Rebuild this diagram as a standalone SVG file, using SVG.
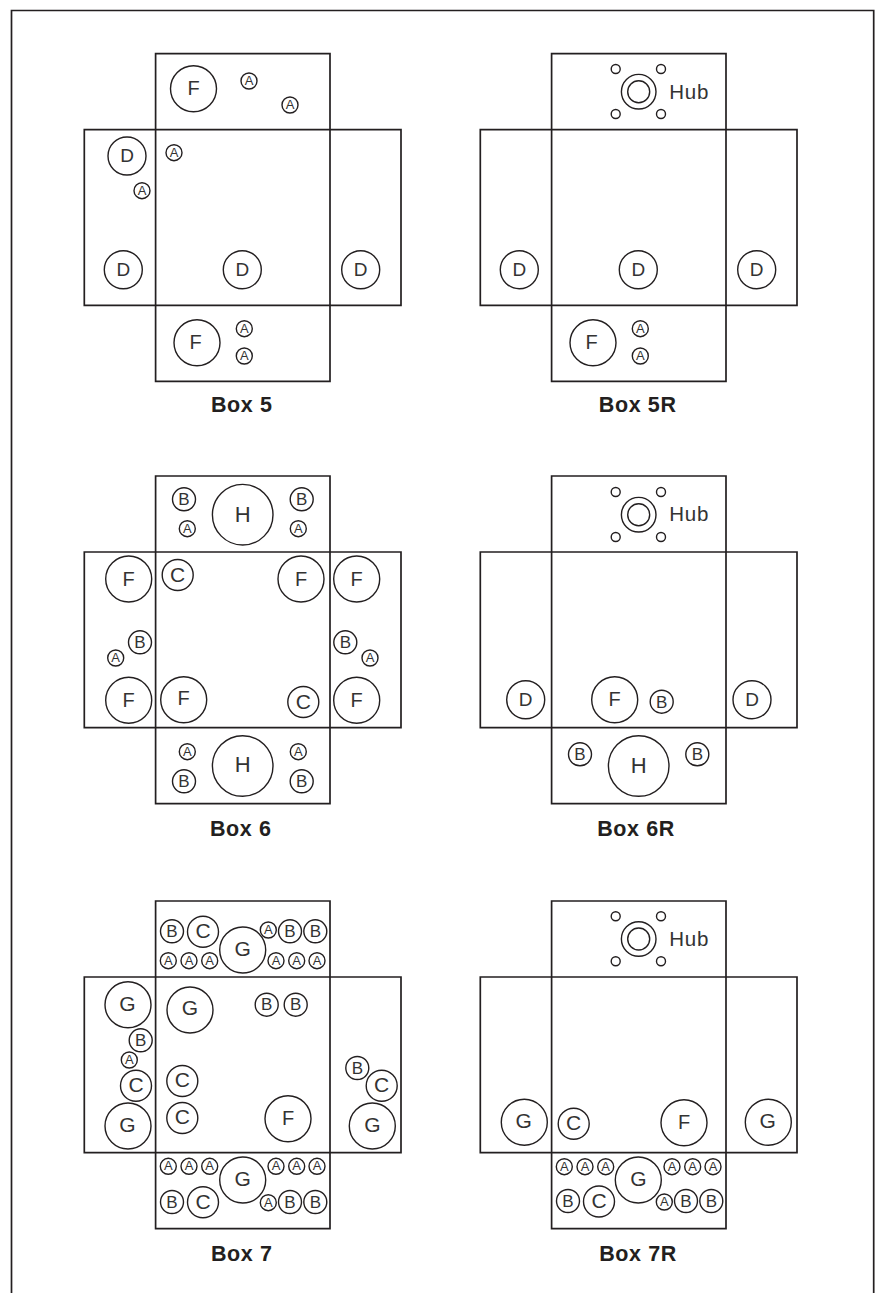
<svg xmlns="http://www.w3.org/2000/svg" width="881" height="1293" viewBox="0 0 881 1293">
<style>
.bg{fill:#fff}
.frame{fill:none;stroke:#231f20;stroke-width:1.7}
.net{fill:none;stroke:#231f20;stroke-width:1.7}
circle{fill:none;stroke:#231f20;stroke-width:1.4}
text{font-family:"Liberation Sans",Arial,sans-serif;fill:#333;text-anchor:middle}
.a{font-size:13px;transform:translateY(.4px)}.b{font-size:17px;transform:translateY(.2px)}.c{font-size:21px;transform:translateY(.3px)}.d{font-size:19px;transform:translateY(.2px)}.f{font-size:20px;transform:translateY(.3px)}.g{font-size:21px;transform:translateY(.3px)}.h{font-size:22px;transform:translateY(.3px)}
.hub{font-size:20.5px;text-anchor:start;letter-spacing:.7px}
.label{font-size:21.5px;font-weight:700;fill:#231f20;letter-spacing:.6px}
</style>
<defs>
<path id="net" class="net" d="M71.3 0H245.7V76H316.7V251.6H245.7V327.6H71.3V251.6H0V76H71.3ZM71.3 76H245.7M71.3 251.6H245.7M71.3 76V251.6M245.7 76V251.6"/>
<g id="hubmark">
<circle r="17.3"/><circle r="11"/>
<circle cx="-23" cy="-22.7" r="4.5"/><circle cx="22.3" cy="-22.7" r="4.5"/><circle cx="-23" cy="22.3" r="4.5"/><circle cx="22.3" cy="22.3" r="4.5"/>
</g>
</defs>
<rect class="bg" width="881" height="1293"/>
<path id="frame" class="frame" d="M11.5 1293V10.5H873.7V1293"/>

<g id="box5">
<use href="#net" x="84.3" y="53.7"/>
<g id="b5-1"><circle cx="193.5" cy="88.7" r="23"/><text class="f" x="193.5" y="95">F</text></g>
<g id="b5-2"><circle cx="249" cy="81" r="8"/><text class="a" x="249" y="84.8">A</text></g>
<g id="b5-3"><circle cx="290" cy="105" r="8"/><text class="a" x="290" y="108.8">A</text></g>
<g id="b5-4"><circle cx="174" cy="152.7" r="8"/><text class="a" x="174" y="156.5">A</text></g>
<g id="b5-5"><circle cx="142" cy="190.7" r="8"/><text class="a" x="142" y="194.5">A</text></g>
<g id="b5-6"><circle cx="127" cy="156" r="19"/><text class="d" x="127" y="162.2">D</text></g>
<g id="b5-7"><circle cx="123.3" cy="269.7" r="19"/><text class="d" x="123.3" y="275.9">D</text></g>
<g id="b5-8"><circle cx="242.3" cy="269.7" r="19"/><text class="d" x="242.3" y="275.9">D</text></g>
<g id="b5-9"><circle cx="360.7" cy="269.7" r="19"/><text class="d" x="360.7" y="275.9">D</text></g>
<g id="b5-10"><circle cx="197" cy="342.7" r="23"/><text class="f" x="195.5" y="349">F</text></g>
<g id="b5-11"><circle cx="244.3" cy="328.7" r="8"/><text class="a" x="244.3" y="332.5">A</text></g>
<g id="b5-12"><circle cx="244.3" cy="356" r="8"/><text class="a" x="244.3" y="359.8">A</text></g>
<text class="label" x="241.7" y="411.7">Box 5</text>
</g>

<g id="box5r">
<use href="#net" x="480.3" y="53.7"/>
<use id="b5r-hub" href="#hubmark" x="638.7" y="91.7"/>
<text class="hub" x="669.3" y="98.7">Hub</text>
<g id="b5r-1"><circle cx="519.3" cy="269.7" r="19"/><text class="d" x="519.3" y="275.9">D</text></g>
<g id="b5r-2"><circle cx="638.3" cy="269.7" r="19"/><text class="d" x="638.3" y="275.9">D</text></g>
<g id="b5r-3"><circle cx="756.7" cy="269.7" r="19"/><text class="d" x="756.7" y="275.9">D</text></g>
<g id="b5r-4"><circle cx="593" cy="342.7" r="23"/><text class="f" x="591.5" y="349">F</text></g>
<g id="b5r-5"><circle cx="640.3" cy="328.7" r="8"/><text class="a" x="640.3" y="332.5">A</text></g>
<g id="b5r-6"><circle cx="640.3" cy="356" r="8"/><text class="a" x="640.3" y="359.8">A</text></g>
<text class="label" x="637.7" y="411.7">Box 5R</text>
</g>

<g id="box6">
<use href="#net" x="84.3" y="476"/>
<g id="b6-1"><circle cx="242.7" cy="514.7" r="30.3"/><text class="h" x="242.7" y="521.7">H</text></g>
<g id="b6-2"><circle cx="184" cy="499.3" r="11.5"/><text class="b" x="184" y="504.8">B</text></g>
<g id="b6-3"><circle cx="187.3" cy="528.7" r="8"/><text class="a" x="187.3" y="532.5">A</text></g>
<g id="b6-4"><circle cx="301.7" cy="499.3" r="11.5"/><text class="b" x="301.7" y="504.8">B</text></g>
<g id="b6-5"><circle cx="298.3" cy="528.7" r="8"/><text class="a" x="298.3" y="532.5">A</text></g>
<g id="b6-6"><circle cx="128.7" cy="579" r="23"/><text class="f" x="128.7" y="585.3">F</text></g>
<g id="b6-7"><circle cx="177.7" cy="575" r="15.5"/><text class="c" x="177.7" y="581.5">C</text></g>
<g id="b6-8"><circle cx="301" cy="579" r="23"/><text class="f" x="301" y="585.3">F</text></g>
<g id="b6-9"><circle cx="356.7" cy="579" r="23"/><text class="f" x="356.7" y="585.3">F</text></g>
<g id="b6-10"><circle cx="140" cy="642.3" r="11.5"/><text class="b" x="140" y="647.8">B</text></g>
<g id="b6-11"><circle cx="115.7" cy="658" r="8"/><text class="a" x="115.7" y="661.8">A</text></g>
<g id="b6-12"><circle cx="345.3" cy="642.3" r="11.5"/><text class="b" x="345.3" y="647.8">B</text></g>
<g id="b6-13"><circle cx="370" cy="658" r="8"/><text class="a" x="370" y="661.8">A</text></g>
<g id="b6-14"><circle cx="128.7" cy="700.3" r="23"/><text class="f" x="128.7" y="706.6">F</text></g>
<g id="b6-15"><circle cx="183.7" cy="699.7" r="23"/><text class="f" x="183.7" y="705">F</text></g>
<g id="b6-16"><circle cx="303.3" cy="702" r="15.5"/><text class="c" x="303.3" y="708.5">C</text></g>
<g id="b6-17"><circle cx="356.7" cy="700.3" r="23"/><text class="f" x="356.7" y="706.6">F</text></g>
<g id="b6-18"><circle cx="187.3" cy="751.7" r="8"/><text class="a" x="187.3" y="755.5">A</text></g>
<g id="b6-19"><circle cx="184" cy="781.3" r="11.5"/><text class="b" x="184" y="786.8">B</text></g>
<g id="b6-20"><circle cx="242.7" cy="766" r="30.3"/><text class="h" x="242.7" y="772">H</text></g>
<g id="b6-21"><circle cx="298.3" cy="751.7" r="8"/><text class="a" x="298.3" y="755.5">A</text></g>
<g id="b6-22"><circle cx="301.7" cy="781.3" r="11.5"/><text class="b" x="301.7" y="786.8">B</text></g>
<text class="label" x="240.7" y="835.7">Box 6</text>
</g>

<g id="box6r">
<use href="#net" x="480.3" y="476"/>
<use id="b6r-hub" href="#hubmark" x="638.7" y="514.7"/>
<text class="hub" x="669.3" y="520.7">Hub</text>
<g id="b6r-1"><circle cx="525.7" cy="699.7" r="19"/><text class="d" x="525.7" y="705.9">D</text></g>
<g id="b6r-2"><circle cx="614.7" cy="699.7" r="23"/><text class="f" x="614.7" y="706">F</text></g>
<g id="b6r-3"><circle cx="661.7" cy="701.7" r="11.5"/><text class="b" x="661.7" y="707.7">B</text></g>
<g id="b6r-4"><circle cx="752" cy="699.7" r="19"/><text class="d" x="752" y="705.9">D</text></g>
<g id="b6r-5"><circle cx="580" cy="754.3" r="11.5"/><text class="b" x="580" y="759.8">B</text></g>
<g id="b6r-6"><circle cx="638.7" cy="766" r="30.3"/><text class="h" x="638.7" y="772.5">H</text></g>
<g id="b6r-7"><circle cx="697.3" cy="754.3" r="11.5"/><text class="b" x="697.3" y="759.8">B</text></g>
<text class="label" x="636" y="835.7">Box 6R</text>
</g>

<g id="box7">
<use href="#net" x="84.3" y="901"/>
<g id="b7-1"><circle cx="172" cy="931.3" r="11.5"/><text class="b" x="172" y="936.8">B</text></g>
<g id="b7-2"><circle cx="203" cy="931.7" r="15.5"/><text class="c" x="203" y="938.2">C</text></g>
<g id="b7-3"><circle cx="242.7" cy="950" r="23"/><text class="g" x="242.7" y="956">G</text></g>
<g id="b7-4"><circle cx="268.3" cy="930" r="8"/><text class="a" x="268.3" y="933.8">A</text></g>
<g id="b7-5"><circle cx="290" cy="931.3" r="11.5"/><text class="b" x="290" y="936.8">B</text></g>
<g id="b7-6"><circle cx="315.3" cy="931.3" r="11.5"/><text class="b" x="315.3" y="936.8">B</text></g>
<g id="b7-7"><circle cx="168.3" cy="960.7" r="8"/><text class="a" x="168.3" y="964.5">A</text></g>
<g id="b7-8"><circle cx="189" cy="960.7" r="8"/><text class="a" x="189" y="964.5">A</text></g>
<g id="b7-9"><circle cx="209.7" cy="960.7" r="8"/><text class="a" x="209.7" y="964.5">A</text></g>
<g id="b7-10"><circle cx="276" cy="960.7" r="8"/><text class="a" x="276" y="964.5">A</text></g>
<g id="b7-11"><circle cx="296.7" cy="960.7" r="8"/><text class="a" x="296.7" y="964.5">A</text></g>
<g id="b7-12"><circle cx="317" cy="960.7" r="8"/><text class="a" x="317" y="964.5">A</text></g>
<g id="b7-13"><circle cx="128" cy="1004.7" r="23"/><text class="g" x="127.3" y="1010.5">G</text></g>
<g id="b7-14"><circle cx="190" cy="1010" r="23"/><text class="g" x="190" y="1015">G</text></g>
<g id="b7-15"><circle cx="266.7" cy="1004.7" r="11.5"/><text class="b" x="266.7" y="1010.2">B</text></g>
<g id="b7-16"><circle cx="295.7" cy="1004.7" r="11.5"/><text class="b" x="295.7" y="1010.2">B</text></g>
<g id="b7-17"><circle cx="140.7" cy="1040.3" r="11.5"/><text class="b" x="140.7" y="1045.8">B</text></g>
<g id="b7-18"><circle cx="129.3" cy="1060" r="8"/><text class="a" x="129.3" y="1063.8">A</text></g>
<g id="b7-19"><circle cx="136" cy="1085.7" r="15.5"/><text class="c" x="136" y="1092.2">C</text></g>
<g id="b7-20"><circle cx="128" cy="1126" r="23"/><text class="g" x="127.3" y="1131.5">G</text></g>
<g id="b7-21"><circle cx="182.3" cy="1081" r="15.5"/><text class="c" x="182.3" y="1087">C</text></g>
<g id="b7-22"><circle cx="182.3" cy="1118" r="15.5"/><text class="c" x="182.3" y="1124">C</text></g>
<g id="b7-23"><circle cx="288" cy="1118.7" r="23"/><text class="f" x="288" y="1125">F</text></g>
<g id="b7-24"><circle cx="357.3" cy="1068" r="11.5"/><text class="b" x="357.3" y="1073.5">B</text></g>
<g id="b7-25"><circle cx="381.7" cy="1085.7" r="15.5"/><text class="c" x="381.7" y="1092.2">C</text></g>
<g id="b7-26"><circle cx="372.3" cy="1126" r="23"/><text class="g" x="372.3" y="1132">G</text></g>
<g id="b7-27"><circle cx="168.3" cy="1166.3" r="8"/><text class="a" x="168.3" y="1170.1">A</text></g>
<g id="b7-28"><circle cx="189" cy="1166.3" r="8"/><text class="a" x="189" y="1170.1">A</text></g>
<g id="b7-29"><circle cx="209.7" cy="1166.3" r="8"/><text class="a" x="209.7" y="1170.1">A</text></g>
<g id="b7-30"><circle cx="276" cy="1166.3" r="8"/><text class="a" x="276" y="1170.1">A</text></g>
<g id="b7-31"><circle cx="296.7" cy="1166.3" r="8"/><text class="a" x="296.7" y="1170.1">A</text></g>
<g id="b7-32"><circle cx="317" cy="1166.3" r="8"/><text class="a" x="317" y="1170.1">A</text></g>
<g id="b7-33"><circle cx="242.7" cy="1180" r="23"/><text class="g" x="242.7" y="1186">G</text></g>
<g id="b7-34"><circle cx="172" cy="1202" r="11.5"/><text class="b" x="172" y="1207.5">B</text></g>
<g id="b7-35"><circle cx="203" cy="1202.3" r="15.5"/><text class="c" x="203" y="1208.3">C</text></g>
<g id="b7-36"><circle cx="268.3" cy="1202.7" r="8"/><text class="a" x="268.3" y="1206.5">A</text></g>
<g id="b7-37"><circle cx="290" cy="1202" r="11.5"/><text class="b" x="290" y="1207.5">B</text></g>
<g id="b7-38"><circle cx="315.3" cy="1202" r="11.5"/><text class="b" x="315.3" y="1207.5">B</text></g>
<text class="label" x="241.7" y="1260.7">Box 7</text>
</g>

<g id="box7r">
<use href="#net" x="480.3" y="901"/>
<use id="b7r-hub" href="#hubmark" x="638.7" y="939"/>
<text class="hub" x="669.3" y="945.5">Hub</text>
<g id="b7r-1"><circle cx="524.3" cy="1122.3" r="23"/><text class="g" x="523.6" y="1128">G</text></g>
<g id="b7r-2"><circle cx="573.7" cy="1123.7" r="15.5"/><text class="c" x="573.7" y="1130.2">C</text></g>
<g id="b7r-3"><circle cx="684" cy="1122.7" r="23"/><text class="f" x="684" y="1129">F</text></g>
<g id="b7r-4"><circle cx="768.3" cy="1122.3" r="23"/><text class="g" x="767.6" y="1128">G</text></g>
<g id="b7r-5"><circle cx="564.3" cy="1166.7" r="8"/><text class="a" x="564.3" y="1170.5">A</text></g>
<g id="b7r-6"><circle cx="585" cy="1166.7" r="8"/><text class="a" x="585" y="1170.5">A</text></g>
<g id="b7r-7"><circle cx="605.7" cy="1166.7" r="8"/><text class="a" x="605.7" y="1170.5">A</text></g>
<g id="b7r-8"><circle cx="672" cy="1166.7" r="8"/><text class="a" x="672" y="1170.5">A</text></g>
<g id="b7r-9"><circle cx="692.7" cy="1166.7" r="8"/><text class="a" x="692.7" y="1170.5">A</text></g>
<g id="b7r-10"><circle cx="713" cy="1166.7" r="8"/><text class="a" x="713" y="1170.5">A</text></g>
<g id="b7r-11"><circle cx="638.3" cy="1180" r="23"/><text class="g" x="638.3" y="1186">G</text></g>
<g id="b7r-12"><circle cx="568" cy="1201" r="11.5"/><text class="b" x="568" y="1207">B</text></g>
<g id="b7r-13"><circle cx="599" cy="1201.5" r="15.5"/><text class="c" x="599" y="1207.5">C</text></g>
<g id="b7r-14"><circle cx="664.3" cy="1202" r="8"/><text class="a" x="664.3" y="1205.8">A</text></g>
<g id="b7r-15"><circle cx="686" cy="1201" r="11.5"/><text class="b" x="686" y="1207">B</text></g>
<g id="b7r-16"><circle cx="711.3" cy="1201" r="11.5"/><text class="b" x="711.3" y="1207">B</text></g>
<text class="label" x="638" y="1260.7">Box 7R</text>
</g>
</svg>
